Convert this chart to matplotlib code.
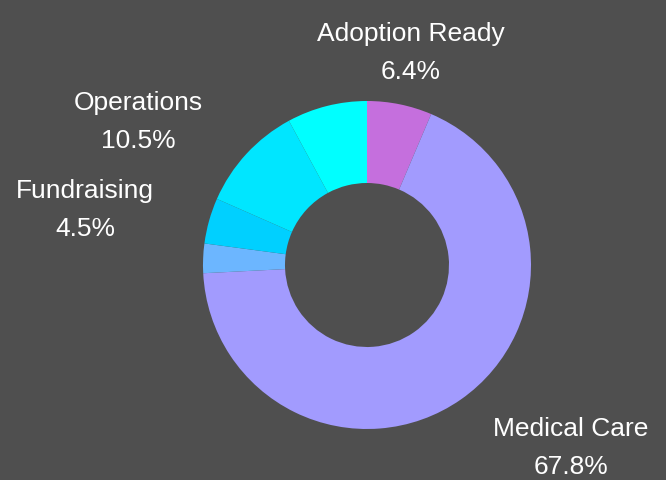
import matplotlib
matplotlib.use("Agg")
import matplotlib.pyplot as plt

# slice data, clockwise from 12 o'clock
categories = ["Adoption Ready", "Medical Care", "", "Fundraising", "Operations", ""]
values = [6.4, 67.8, 2.9, 4.5, 10.5, 7.9]
colors = ["#c56fdd", "#a29bfe", "#6cb6ff", "#00d0ff", "#00e6ff", "#00ffff"]

# label anchor points (pixels, from bottom-left)
label_pos = {
    "Adoption Ready": (411, 428),
    "Medical Care": (571, 33),
    "Operations": (138, 359),
    "Fundraising": (85, 271),
}

bg = "#4f4f4f"
plt.rcParams["font.family"] = ["Liberation Sans", "DejaVu Sans"]

fig = plt.figure(figsize=(6.66, 4.81), dpi=100)
fig.patch.set_facecolor(bg)
ax = fig.add_axes([0, 0, 1, 1])
ax.set_facecolor(bg)

cx, cy, r = 367, 215, 164
ax.pie(values, colors=colors, startangle=90, counterclock=False,
       center=(cx, cy), radius=r, frame=True,
       wedgeprops=dict(width=r * 0.5, linewidth=0))

total = sum(values)
for name, v in zip(categories, values):
    if not name:
        continue
    x, y = label_pos[name]
    ax.text(x, y, "%s\n%.1f%%" % (name, 100.0 * v / total), color="white",
            fontsize=19, ha="center", va="center", linespacing=1.72)

ax.set_xlim(0, 666)
ax.set_ylim(0, 481)
ax.set_aspect("equal")
ax.axis("off")

plt.savefig("out.png", dpi=100, facecolor=bg)
